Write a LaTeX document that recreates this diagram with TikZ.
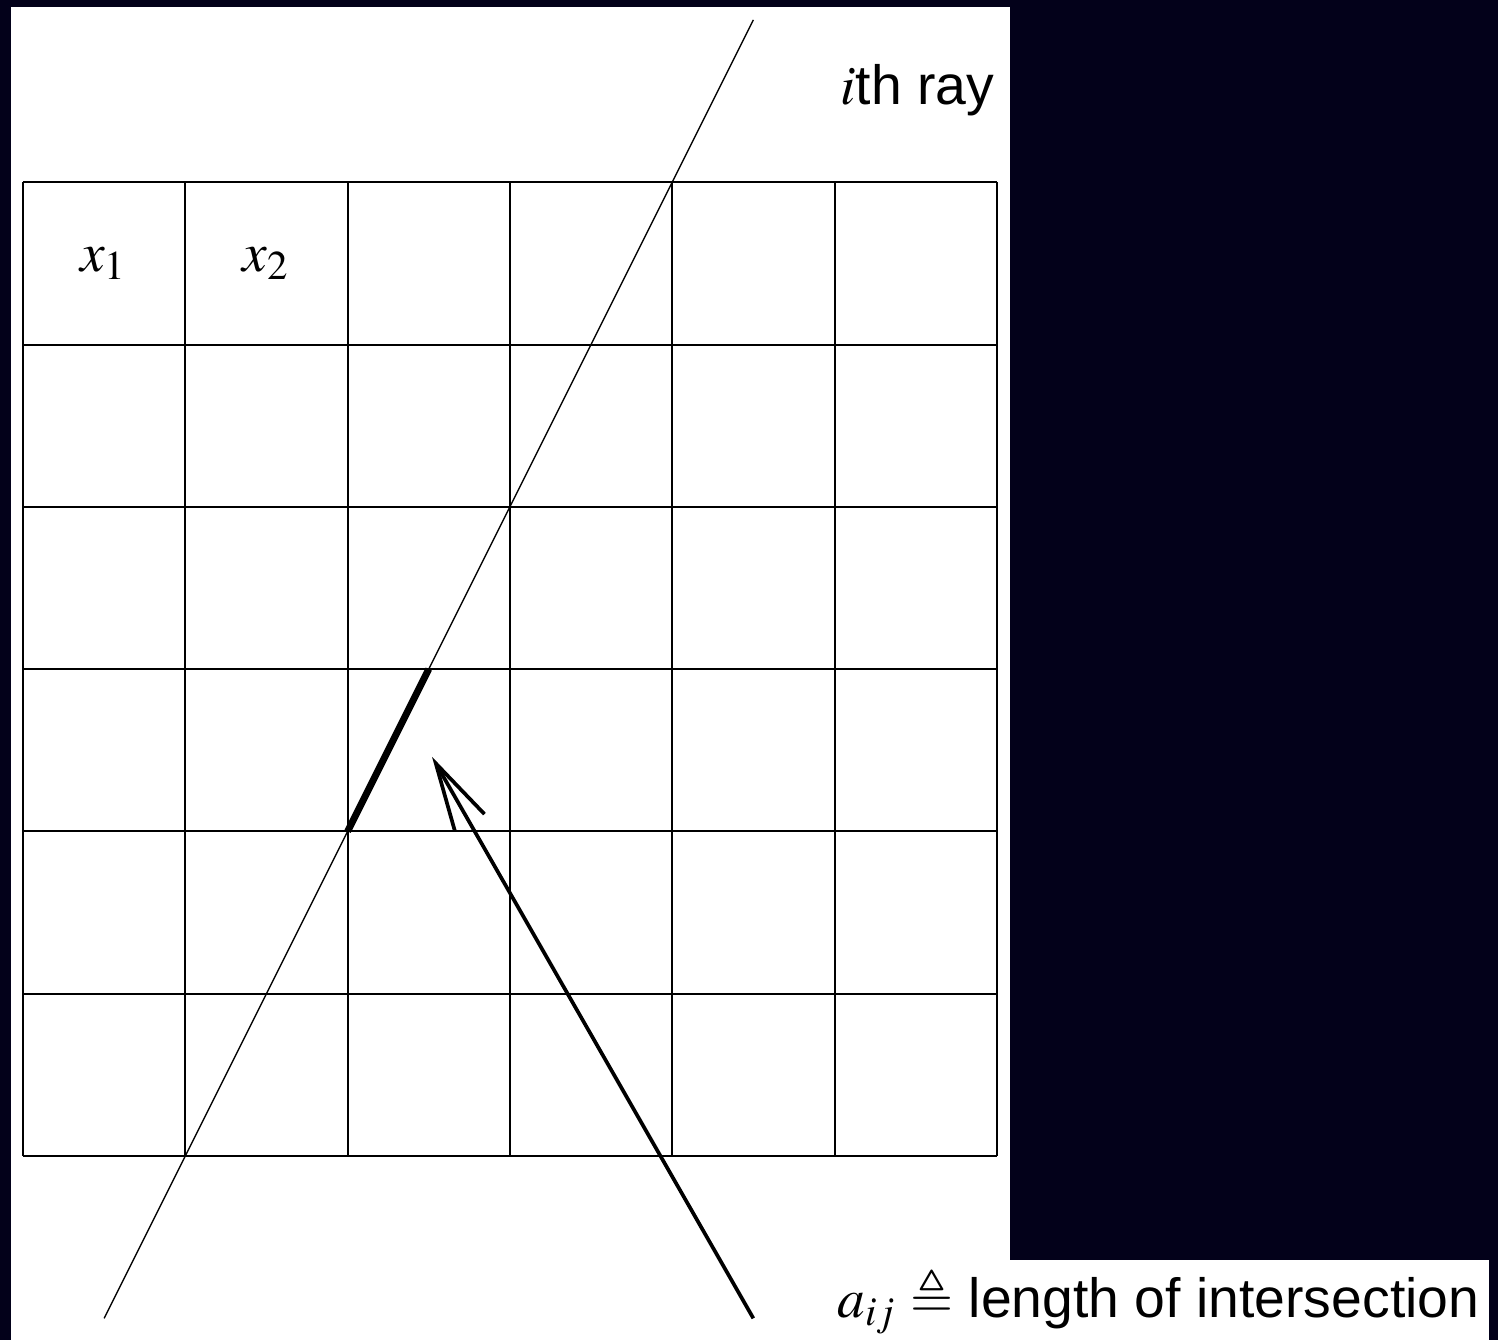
\documentclass[tikz,border=0pt]{standalone}
\usepackage{mathptmx}
\usepackage{amssymb}
\usepackage[no-math]{fontspec}
\setmainfont{Liberation Sans}
\usetikzlibrary{arrows.meta}
\definecolor{navy}{RGB}{3,1,26}

\begin{document}
\begin{tikzpicture}[font=\fontsize{9.7}{11}\selectfont]
  % page and frame
  \fill[navy] (-0.1417,-1.1337) rectangle (9.088,7.1226);
  \useasboundingbox (-0.1417,-1.1337) rectangle (9.088,7.1226);
  \fill[white] (-0.074,-1.1337) rectangle (6.081,7.079);
  \fill[white] (6.081,-1.1337) rectangle (9.033,-0.641);
  % pixel grid
  \draw[line width=0.35pt] (0,0) grid (6,6);
  \foreach \i in {1,2}{
    \node (x\i) at (\i-0.5,5.5) {$x_\i$};
  }
  % ray through the grid
  \coordinate (rayS) at (0.5,-1);
  \coordinate (rayN) at (4.5,7);
  \draw[line width=0.25pt] (rayS) -- (rayN);
  \coordinate (cutA) at (2,2);
  \coordinate (cutB) at (2.5,3);
  \draw[line width=1.2pt] (cutA) -- (cutB);
  \node[anchor=base east, inner sep=0pt] (ray) at (5.99,6.48) {$i$th ray};
  % label and pointer
  \node[anchor=base east, inner sep=0pt] (aij) at (8.98,-0.995) {$a_{ij} \triangleq$ length of intersection};
  \coordinate (ptr) at (4.5,-1);
  \coordinate (tip) at (2.52,2.46);
  \draw[line width=0.65pt, -{Straight Barb[length=4.2mm,width=2.1mm]}] (ptr) -- (tip);
\end{tikzpicture}
\end{document}
